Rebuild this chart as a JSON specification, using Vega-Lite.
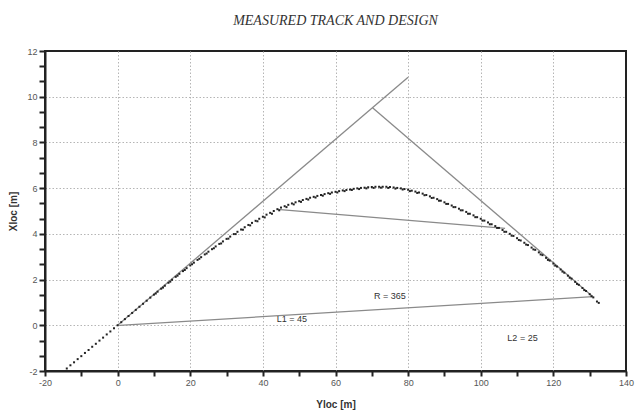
{
  "$schema": "https://vega.github.io/schema/vega-lite/v6.json",
  "autosize": {"type": "none"},
  "padding": {"left": 45, "top": 51, "right": 12, "bottom": 42},
  "width": 581,
  "height": 320,
  "background": "white",
  "config": {
    "view": {"stroke": "#222", "strokeWidth": 2},
    "font": "Liberation Sans"
  },
  "title": {
    "text": "MEASURED TRACK AND DESIGN",
    "font": "Liberation Serif",
    "fontStyle": "italic",
    "fontWeight": "normal",
    "fontSize": 14,
    "color": "#333",
    "anchor": "middle",
    "offset": 19
  },
  "datasets": {
    "track": [
      {"x": -14, "y": -1.89}, {"x": -13, "y": -1.75}, {"x": -12, "y": -1.62}, {"x": -11, "y": -1.48},
      {"x": -10, "y": -1.35}, {"x": -9, "y": -1.21}, {"x": -8, "y": -1.08}, {"x": -7, "y": -0.94},
      {"x": -6, "y": -0.81}, {"x": -5, "y": -0.67}, {"x": -4, "y": -0.54}, {"x": -3, "y": -0.40},
      {"x": -2, "y": -0.27}, {"x": -1, "y": -0.13}, {"x": 0, "y": 0.0}, {"x": 1, "y": 0.135},
      {"x": 2, "y": 0.27}, {"x": 3, "y": 0.405}, {"x": 4, "y": 0.54}, {"x": 5, "y": 0.675},
      {"x": 6, "y": 0.81}, {"x": 7, "y": 0.94}, {"x": 8, "y": 1.075}, {"x": 9, "y": 1.21},
      {"x": 10, "y": 1.34}, {"x": 11, "y": 1.47}, {"x": 12, "y": 1.60}, {"x": 13, "y": 1.73},
      {"x": 14, "y": 1.86}, {"x": 15, "y": 1.99}, {"x": 16, "y": 2.12}, {"x": 17, "y": 2.25},
      {"x": 18, "y": 2.37}, {"x": 19, "y": 2.50}, {"x": 20, "y": 2.62}, {"x": 21, "y": 2.74},
      {"x": 22, "y": 2.86}, {"x": 23, "y": 2.98}, {"x": 24, "y": 3.10}, {"x": 25, "y": 3.22},
      {"x": 26, "y": 3.33}, {"x": 27, "y": 3.45}, {"x": 28, "y": 3.56}, {"x": 29, "y": 3.67},
      {"x": 30, "y": 3.78}, {"x": 31, "y": 3.88}, {"x": 32, "y": 3.99}, {"x": 33, "y": 4.09},
      {"x": 34, "y": 4.19}, {"x": 35, "y": 4.29}, {"x": 36, "y": 4.39}, {"x": 37, "y": 4.48},
      {"x": 38, "y": 4.57}, {"x": 39, "y": 4.66}, {"x": 40, "y": 4.75}, {"x": 41, "y": 4.84},
      {"x": 42, "y": 4.92}, {"x": 43, "y": 5.00}, {"x": 44, "y": 5.08}, {"x": 45, "y": 5.15},
      {"x": 46, "y": 5.21}, {"x": 47, "y": 5.27}, {"x": 48, "y": 5.33}, {"x": 49, "y": 5.38},
      {"x": 50, "y": 5.43}, {"x": 51, "y": 5.48}, {"x": 52, "y": 5.53}, {"x": 53, "y": 5.58},
      {"x": 54, "y": 5.62}, {"x": 55, "y": 5.66}, {"x": 56, "y": 5.70}, {"x": 57, "y": 5.74},
      {"x": 58, "y": 5.78}, {"x": 59, "y": 5.81}, {"x": 60, "y": 5.84}, {"x": 61, "y": 5.87},
      {"x": 62, "y": 5.90}, {"x": 63, "y": 5.92}, {"x": 64, "y": 5.94}, {"x": 65, "y": 5.97},
      {"x": 66, "y": 5.99}, {"x": 67, "y": 6.01}, {"x": 68, "y": 6.02}, {"x": 69, "y": 6.04},
      {"x": 70, "y": 6.05}, {"x": 71, "y": 6.06}, {"x": 72, "y": 6.06}, {"x": 73, "y": 6.06},
      {"x": 74, "y": 6.06}, {"x": 75, "y": 6.05}, {"x": 76, "y": 6.03}, {"x": 77, "y": 6.01},
      {"x": 78, "y": 5.99}, {"x": 79, "y": 5.96}, {"x": 80, "y": 5.93}, {"x": 81, "y": 5.89},
      {"x": 82, "y": 5.85}, {"x": 83, "y": 5.81}, {"x": 84, "y": 5.76}, {"x": 85, "y": 5.70},
      {"x": 86, "y": 5.64}, {"x": 87, "y": 5.58}, {"x": 88, "y": 5.52}, {"x": 89, "y": 5.45},
      {"x": 90, "y": 5.38}, {"x": 91, "y": 5.31}, {"x": 92, "y": 5.24}, {"x": 93, "y": 5.17},
      {"x": 94, "y": 5.10}, {"x": 95, "y": 5.03}, {"x": 96, "y": 4.96}, {"x": 97, "y": 4.88},
      {"x": 98, "y": 4.81}, {"x": 99, "y": 4.73}, {"x": 100, "y": 4.66}, {"x": 101, "y": 4.58},
      {"x": 102, "y": 4.50}, {"x": 103, "y": 4.42}, {"x": 104, "y": 4.34}, {"x": 105, "y": 4.26},
      {"x": 106, "y": 4.17}, {"x": 107, "y": 4.09}, {"x": 108, "y": 4.00}, {"x": 109, "y": 3.91},
      {"x": 110, "y": 3.81}, {"x": 111, "y": 3.71}, {"x": 112, "y": 3.61}, {"x": 113, "y": 3.51},
      {"x": 114, "y": 3.40}, {"x": 115, "y": 3.30}, {"x": 116, "y": 3.19}, {"x": 117, "y": 3.07},
      {"x": 118, "y": 2.95}, {"x": 119, "y": 2.83}, {"x": 120, "y": 2.70}, {"x": 121, "y": 2.57},
      {"x": 122, "y": 2.44}, {"x": 123, "y": 2.30}, {"x": 124, "y": 2.17}, {"x": 125, "y": 2.04},
      {"x": 126, "y": 1.90}, {"x": 127, "y": 1.77}, {"x": 128, "y": 1.63}, {"x": 129, "y": 1.50},
      {"x": 130, "y": 1.36}, {"x": 131, "y": 1.22}, {"x": 132, "y": 1.04},
      {"x": 10.5, "y": 1.39}, {"x": 12.5, "y": 1.65}, {"x": 14.5, "y": 1.91}, {"x": 16.5, "y": 2.17},
      {"x": 18.5, "y": 2.42}, {"x": 20.5, "y": 2.67}, {"x": 22.5, "y": 2.91}, {"x": 24.5, "y": 3.14},
      {"x": 26.5, "y": 3.37}, {"x": 28.5, "y": 3.58}, {"x": 30.5, "y": 3.79}, {"x": 32.5, "y": 3.99},
      {"x": 34.5, "y": 4.18}, {"x": 36.5, "y": 4.37}, {"x": 38.5, "y": 4.55}, {"x": 40.5, "y": 4.72},
      {"x": 42.5, "y": 4.88}, {"x": 44.5, "y": 5.03}, {"x": 46.5, "y": 5.17}, {"x": 48.5, "y": 5.29},
      {"x": 50.5, "y": 5.40}, {"x": 52.5, "y": 5.50}, {"x": 54.5, "y": 5.59}, {"x": 56.5, "y": 5.67},
      {"x": 58.5, "y": 5.75}, {"x": 60.5, "y": 5.81}, {"x": 62.5, "y": 5.87}, {"x": 64.5, "y": 5.92},
      {"x": 66.5, "y": 5.96}, {"x": 68.5, "y": 5.99}, {"x": 70.5, "y": 6.01}, {"x": 72.5, "y": 6.02},
      {"x": 74.5, "y": 6.01}, {"x": 76.5, "y": 5.98}, {"x": 78.5, "y": 5.94}, {"x": 80.5, "y": 5.87},
      {"x": 82.5, "y": 5.79}, {"x": 84.5, "y": 5.69}, {"x": 86.5, "y": 5.57}, {"x": 88.5, "y": 5.45},
      {"x": 90.5, "y": 5.31}, {"x": 92.5, "y": 5.17}, {"x": 94.5, "y": 5.03}, {"x": 96.5, "y": 4.88},
      {"x": 98.5, "y": 4.73}, {"x": 100.5, "y": 4.58}, {"x": 102.5, "y": 4.42}, {"x": 104.5, "y": 4.26},
      {"x": 106.5, "y": 4.09}, {"x": 108.5, "y": 3.92}, {"x": 110.5, "y": 3.73}, {"x": 112.5, "y": 3.53},
      {"x": 114.5, "y": 3.32}, {"x": 116.5, "y": 3.10}, {"x": 118.5, "y": 2.86}, {"x": 120.5, "y": 2.61},
      {"x": 122.5, "y": 2.35}, {"x": 124.5, "y": 2.08}, {"x": 126.5, "y": 1.81}, {"x": 128.5, "y": 1.54},
      {"x": 130.5, "y": 1.27}, {"x": 132.5, "y": 0.98}
    ],
    "lines": [
      {"seg": "tangent1", "x": 0, "y": 0}, {"seg": "tangent1", "x": 80, "y": 10.85},
      {"seg": "tangent2", "x": 70.2, "y": 9.52}, {"seg": "tangent2", "x": 130.9, "y": 1.25},
      {"seg": "chordL", "x": 0.5, "y": 0.0}, {"seg": "chordL", "x": 130.9, "y": 1.25},
      {"seg": "chordR", "x": 44, "y": 5.07}, {"seg": "chordR", "x": 106.7, "y": 4.24}
    ],
    "labels": [
      {"label": "R =  365", "x": 75, "y": 1.28},
      {"label": "L1 =  45", "x": 48, "y": 0.26},
      {"label": "L2 =  25", "x": 111.5, "y": -0.57}
    ]
  },
  "encoding": {
    "x": {
      "field": "x", "type": "quantitative",
      "scale": {"domain": [-20, 140], "nice": false, "zero": false},
      "axis": {
        "title": "Yloc [m]",
        "titleFont": "Liberation Sans", "titleFontSize": 10, "titleFontWeight": "bold", "titleColor": "#333",
        "titlePadding": 12,
        "values": [-20, -10, 0, 10, 20, 30, 40, 50, 60, 70, 80, 90, 100, 110, 120, 130, 140],
        "labelExpr": "datum.value % 20 === 0 ? replace(format(datum.value, 'd'), '\u2212', '-') : ''",
        "labelFont": "Liberation Sans", "labelFontSize": 9, "labelColor": "#555",
        "labelPadding": 2, "labelFlush": false, "labelOverlap": false,
        "tickSize": 5, "tickColor": "#222", "tickWidth": 2,
        "domainColor": "#222", "domainWidth": 2,
        "grid": true,
        "gridColor": "#b5b5b5", "gridDash": [1.5, 2], "gridWidth": 1,
        "gridOpacity": {"condition": {"test": "datum.value % 20 === 0 && datum.value > -20 && datum.value < 140", "value": 1}, "value": 0}
      }
    },
    "y": {
      "field": "y", "type": "quantitative",
      "scale": {"domain": [-2, 12], "nice": false, "zero": false},
      "axis": {
        "title": "Xloc [m]",
        "titleFont": "Liberation Sans", "titleFontSize": 10, "titleFontWeight": "bold", "titleColor": "#333",
        "titlePadding": 8,
        "values": [-2, -1.3333, -0.6667, 0, 0.6667, 1.3333, 2, 2.6667, 3.3333, 4, 4.6667, 5.3333, 6, 6.6667, 7.3333, 8, 8.6667, 9.3333, 10, 10.6667, 11.3333, 12],
        "labelExpr": "abs(datum.value / 2 - round(datum.value / 2)) < 0.01 ? replace(format(datum.value, 'd'), '\u2212', '-') : ''",
        "labelFont": "Liberation Sans", "labelFontSize": 9, "labelColor": "#555",
        "labelPadding": 2, "labelFlush": false, "labelOverlap": false,
        "tickSize": 6, "tickColor": "#222", "tickWidth": 2,
        "domainColor": "#222", "domainWidth": 2,
        "grid": true,
        "gridColor": "#b5b5b5", "gridDash": [1.5, 2], "gridWidth": 1,
        "gridOpacity": {"condition": {"test": "abs(datum.value / 2 - round(datum.value / 2)) < 0.01 && datum.value > -2 && datum.value < 12", "value": 1}, "value": 0}
      }
    }
  },
  "layer": [
    {
      "data": {"name": "lines"},
      "mark": {"type": "line", "color": "#8a8a8a", "strokeWidth": 1.3},
      "encoding": {"detail": {"field": "seg", "type": "nominal"}}
    },
    {
      "data": {"name": "track"},
      "mark": {"type": "point", "shape": "square", "filled": true, "size": 4, "color": "#222", "opacity": 1}
    },
    {
      "data": {"name": "labels"},
      "mark": {"type": "text", "font": "Liberation Sans", "fontSize": 9, "color": "#333", "align": "center", "baseline": "middle"},
      "encoding": {"text": {"field": "label", "type": "nominal"}}
    }
  ]
}
